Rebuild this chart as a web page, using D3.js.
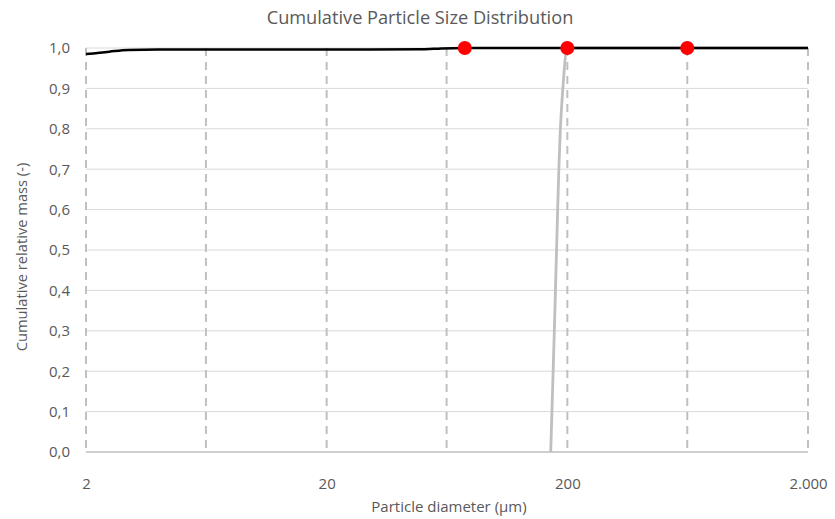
<!DOCTYPE html>
<html>
<head>
<meta charset="utf-8">
<script src="https://cdn.jsdelivr.net/npm/d3@7"></script>
<style>
  html, body { margin: 0; padding: 0; background: #fff; }
  svg text { font-family: "Open Sans", "Noto Sans", sans-serif; fill: #595959; }
</style>
</head>
<body>
<svg id="chart" width="835" height="519"></svg>
<script>
// Cumulative mass fraction of the fine sample (black)
const fineDiameters = [2, 2.5, 3, 4, 10, 30, 50, 60, 75, 200, 630, 2000];
const fineCumulative = [0.985, 0.991, 0.995, 0.996, 0.996, 0.996, 0.997, 0.999, 1.0, 1.0, 1.0, 1.0];

// Cumulative mass fraction of the coarse sample (grey)
const coarseDiameters = [170.6, 172.6, 174.6, 176.6, 178.5, 180.4, 182.3, 184.4, 187.1, 191.6, 200, 630, 2000];
const coarseCumulative = [0.0, 0.1, 0.2, 0.3, 0.4, 0.5, 0.6, 0.7, 0.8, 0.9, 1.0, 1.0, 1.0];

// Reference sieve sizes (dashed verticals) and marked points
const sieveSizes = [2, 6.3, 20, 63, 200, 630, 2000];
const markerDiameters = [75, 200, 630];
const markerValues = [1.0, 1.0, 1.0];

// Axis tick labels
const xTicks = [2, 20, 200, 2000];
const xTickLabels = ["2", "20", "200", "2.000"];
const yTicks = [0, 0.1, 0.2, 0.3, 0.4, 0.5, 0.6, 0.7, 0.8, 0.9, 1.0];

const svg = d3.select("#chart");
const plotLeft = 86, plotRight = 808, plotTop = 48, plotBottom = 452;
const fontStack = '"Open Sans", "Noto Sans", sans-serif';

const x = d3.scaleLog().domain([2, 2000]).range([plotLeft, plotRight]);
const y = d3.scaleLinear().domain([0, 1]).range([plotBottom, plotTop]);

// Title
svg.append("text")
  .attr("x", 420).attr("y", 24)
  .attr("text-anchor", "middle")
  .attr("font-size", 18.2)
  .text("Cumulative Particle Size Distribution");

// Horizontal gridlines
svg.append("g")
  .selectAll("line")
  .data(yTicks.slice(1))
  .join("line")
  .attr("x1", plotLeft).attr("x2", plotRight)
  .attr("y1", d => y(d)).attr("y2", d => y(d))
  .attr("stroke", "#d9d9d9").attr("stroke-width", 1);

// Bottom axis line
svg.append("line")
  .attr("x1", plotLeft).attr("x2", plotRight)
  .attr("y1", plotBottom).attr("y2", plotBottom)
  .attr("stroke", "#bfbfbf").attr("stroke-width", 1.3);

// Dashed sieve lines
svg.append("g")
  .selectAll("line")
  .data(sieveSizes)
  .join("line")
  .attr("x1", d => x(d)).attr("x2", d => x(d))
  .attr("y1", plotTop).attr("y2", plotBottom)
  .attr("stroke", "#c0c0c0").attr("stroke-width", 2)
  .attr("stroke-dasharray", "8,6");

// Y axis labels
const yAxis = d3.axisLeft(y).tickValues(yTicks).tickSize(0).tickPadding(16)
  .tickFormat(d => d3.format(".1f")(d).replace(".", ","));
const gy = svg.append("g").attr("transform", `translate(${plotLeft},0)`).call(yAxis);
gy.select(".domain").remove();
gy.selectAll("text").attr("font-size", 15).attr("fill", "#595959")
  .style("font-family", fontStack);

// X axis labels
const xAxis = d3.axisBottom(x).tickValues(xTicks).tickSize(0).tickPadding(26)
  .tickFormat((d, i) => xTickLabels[i]);
const gx = svg.append("g").attr("transform", `translate(0,${plotBottom})`).call(xAxis);
gx.select(".domain").remove();
gx.selectAll("text").attr("font-size", 15).attr("fill", "#595959")
  .style("font-family", fontStack);

// Axis titles
svg.append("text")
  .attr("x", 449).attr("y", 512)
  .attr("text-anchor", "middle").attr("font-size", 15)
  .text("Particle diameter (µm)");
svg.append("text")
  .attr("transform", "translate(27,257) rotate(-90)")
  .attr("text-anchor", "middle").attr("font-size", 14.7)
  .text("Cumulative relative mass (-)");

// Coarse sample curve
const coarse = coarseDiameters.map((d, i) => [d, coarseCumulative[i]]);
svg.append("path")
  .datum(coarse)
  .attr("fill", "none").attr("stroke", "#bfbfbf").attr("stroke-width", 2.8)
  .attr("d", d3.line().x(d => x(d[0])).y(d => y(d[1])).curve(d3.curveMonotoneX));

// Fine sample curve
const fine = fineDiameters.map((d, i) => [d, fineCumulative[i]]);
svg.append("path")
  .datum(fine)
  .attr("fill", "none").attr("stroke", "#000").attr("stroke-width", 2.5)
  .attr("d", d3.line().x(d => x(d[0])).y(d => y(d[1])).curve(d3.curveMonotoneX));

// Marked points
svg.append("g")
  .selectAll("circle")
  .data(markerDiameters.map((d, i) => [d, markerValues[i]]))
  .join("circle")
  .attr("cx", d => x(d[0])).attr("cy", d => y(d[1]))
  .attr("r", 7).attr("fill", "#ff0000");
</script>
</body>
</html>
